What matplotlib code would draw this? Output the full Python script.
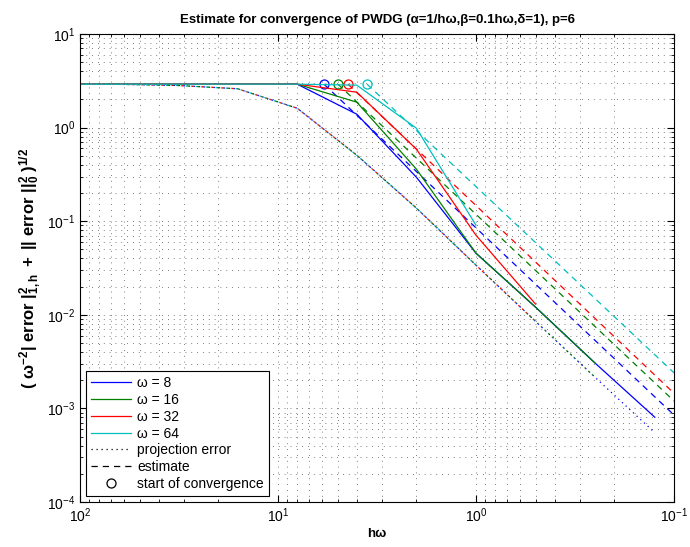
import numpy as np
import matplotlib
matplotlib.use("Agg")
import matplotlib.pyplot as plt
from matplotlib.lines import Line2D

plt.rcParams['font.family'] = ['Liberation Sans', 'DejaVu Sans']
plt.rcParams['mathtext.fontset'] = 'custom'
plt.rcParams['mathtext.rm'] = 'Liberation Sans'
plt.rcParams['mathtext.bf'] = 'Liberation Sans:bold'
plt.rcParams['mathtext.it'] = 'Liberation Sans:italic'

# h*omega grid (h = 1/2^k)
hw = np.array([128, 64, 32, 16, 8, 4, 2, 1, 0.5, 0.25, 0.125])
omegas = [8, 16, 32, 64]
colors = ['#0000ff', '#008000', '#ff0000', '#00bfbf']

err_8 = [2.91, 2.91, 2.91, 2.91, 2.91, 1.39, 0.295, 0.0455, 0.01205, 0.00304, 0.000805]
err_16 = [2.91, 2.91, 2.91, 2.91, 2.91, 1.87, 0.36, 0.0455, 0.01205, 0.00304]
err_32 = [2.91, 2.91, 2.91, 2.91, 2.91, 2.39, 0.588, 0.0708, 0.0130]
err_64 = [2.91, 2.91, 2.91, 2.91, 2.91, 2.84, 0.985, 0.0906]
errors = [err_8, err_16, err_32, err_64]

proj = [2.91, 2.9, 2.82, 2.6, 1.61, 0.507, 0.138, 0.0339, 0.0085, 0.00214, 0.00055]

# start of convergence (h*omega where estimate meets the plateau)
start_hw = [5.86, 4.98, 4.43, 3.55]
start_val = 2.91
# estimate lines: from start point to h*omega = 0.1
est_end_hw = 0.1
est_end = [0.00085, 0.0012, 0.00145, 0.0024]

fig = plt.figure(figsize=(6.9, 5.47), dpi=100)
ax = fig.add_axes([80/690, 45/547, 594/690, 468/547])

for i, w in enumerate(omegas):
    n = len(errors[i])
    ax.loglog(hw[:n], errors[i], color=colors[i], lw=0.9)
    ax.loglog(hw[:n], proj[:n], color=colors[i], lw=0.9, linestyle=(i * 0.8, (1, 3)))
    ax.loglog([start_hw[i], est_end_hw], [start_val, est_end[i]], color=colors[i], lw=0.9,
              linestyle=(0, (5, 4)))
    ax.loglog([start_hw[i]], [start_val], 'o', color=colors[i], mfc='none', ms=6.5, mew=0.9)

ax.set_xlim(100, 0.1)
ax.set_ylim(1e-4, 10)
ax.grid(True, which='both', linestyle=(0, (1, 6)), color='#555555', lw=0.6)
ax.tick_params(which='both', direction='in', top=True, right=True, labelsize=10)
ax.tick_params(which='major', length=5)
ax.tick_params(which='minor', length=2.5)
for s in ax.spines.values():
    s.set_linewidth(0.8)

ax.set_title('Estimate for convergence of PWDG (α=1/hω,β=0.1hω,δ=1), p=6',
             fontsize=9.5, fontweight='bold', pad=8)
ax.set_xlabel('hω', fontsize=9.5, fontweight='bold', labelpad=2)
ax.set_ylabel(r'$\mathbf{(\ \omega^{-2}|\ error\ |^{2}_{1,h}\ +\ ||\ error\ ||^{2}_{0}\ )^{1/2}}$',
              fontsize=12)
ax.yaxis.set_label_coords(-0.06, 0.5)

handles = [Line2D([], [], color=c, lw=0.9) for c in colors]
labels = ['ω = %d' % w for w in omegas]
handles += [Line2D([], [], color='k', lw=0.9, linestyle=(0, (1, 3))),
            Line2D([], [], color='k', lw=0.9, linestyle=(0, (5, 4))),
            Line2D([], [], color='k', marker='o', mfc='none', linestyle='none', ms=6.5, mew=0.9)]
labels += ['projection error', 'estimate', 'start of convergence']
leg = ax.legend(handles, labels, loc='lower left', fontsize=10, fancybox=False,
                edgecolor='k', framealpha=1, handlelength=2.9, labelspacing=0.2,
                borderaxespad=0.4, handletextpad=0.4, borderpad=0.4)
leg.get_frame().set_linewidth(0.8)

fig.savefig('out.png', dpi=100)
